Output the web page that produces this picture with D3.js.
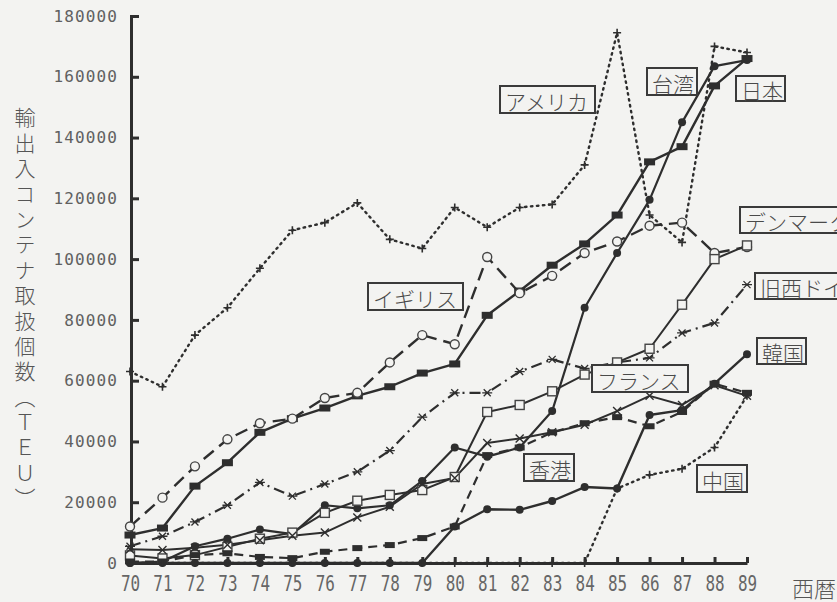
<!DOCTYPE html>
<html>
<head>
<meta charset="utf-8">
<script src="https://cdn.jsdelivr.net/npm/d3@7/dist/d3.min.js"></script>
<style>
  html, body { margin: 0; padding: 0; background: #f3f3f1; }
  svg { display: block; }
</style>
</head>
<body>
<svg id="chart" width="837" height="602"></svg>
<script>
// ---- data (TEU), years 1970–1989 ----
const years = [70, 71, 72, 73, 74, 75, 76, 77, 78, 79, 80, 81, 82, 83, 84, 85, 86, 87, 88, 89];
const yTicks = [0, 20000, 40000, 60000, 80000, 100000, 120000, 140000, 160000, 180000];

const usa         = [63000, 58000, 75000, 84000, 97000, 109500, 112000, 118500, 106500, 103500, 117000, 110500, 117000, 118000, 131000, 174500, 114500, 105500, 170000, 168000];
const japan       = [9200, 11500, 25300, 33000, 43000, 47500, 51000, 55000, 58000, 62500, 65500, 81500, 89500, 98000, 105000, 114500, 132000, 137000, 157000, 166000];
const taiwan      = [0, 500, 5500, 8000, 11000, 9500, 19000, 18000, 19000, 27000, 38000, 35000, 38000, 50000, 84000, 102000, 119500, 145000, 163500, 165500];
const uk          = [12000, 21500, 31800, 40700, 46000, 47500, 54300, 56000, 66000, 75000, 72000, 100700, 88800, 94500, 102000, 105800, 111000, 112000, 102000, 104000];
const westGermany = [5500, 8800, 13500, 19000, 26500, 22000, 26000, 30000, 37000, 48000, 56000, 56000, 63000, 67000, 64000, 66000, 67500, 75700, 79000, 91600];
const denmark     = [2500, 1500, 2600, 5300, 8000, 10000, 16500, 20500, 22400, 24000, 28300, 49700, 52000, 56500, 62000, 66000, 70500, 85000, 100000, 104500];
const france      = [4500, 4300, 5000, 6000, 7500, 9000, 10000, 15000, 18500, 26000, 28000, 39500, 41000, 43000, 45500, 50000, 55000, 52000, 58500, 55000];
const korea       = [0, 0, 0, 0, 0, 0, 0, 0, 0, 0, 12000, 17700, 17500, 20400, 25000, 24500, 48700, 50300, 59000, 68700];
const hongKong    = [500, 500, 2600, 3200, 2000, 1600, 3700, 4900, 5900, 8200, 12000, 35500, 38000, 43000, 46000, 48000, 45000, 49700, 59000, 56000];
const china       = [0, 0, 0, 0, 0, 0, 0, 0, 0, 0, 0, 0, 0, 0, 0, 24500, 29000, 31000, 38000, 55000];

const yTitle = "輸出入コンテナ取扱個数（ＴＥＵ）";
const xTitle = "西暦";

// ---- series styling ----
const INK = "#2e2e2e";
const BG = "#f3f3f1";
const series = [
  { name: "アメリカ",   values: usa,         dash: "1.5,4.5", width: 2.4, marker: "plus" },
  { name: "日本",       values: japan,       dash: null,      width: 2.4, marker: "bar" },
  { name: "台湾",       values: taiwan,      dash: null,      width: 2.2, marker: "dot" },
  { name: "イギリス",   values: uk,          dash: "13,7",    width: 2.4, marker: "ring" },
  { name: "旧西ドイツ", values: westGermany, dash: "11,5,2,5", width: 2.2, marker: "star" },
  { name: "デンマーク", values: denmark,     dash: null,      width: 2.0, marker: "square" },
  { name: "フランス",   values: france,      dash: null,      width: 2.0, marker: "cross" },
  { name: "韓国",       values: korea,       dash: null,      width: 2.4, marker: "dot" },
  { name: "香港",       values: hongKong,    dash: "9,6",     width: 2.2, marker: "smallbar" },
  { name: "中国",       values: china,       dash: "1.5,4.5", width: 2.4, marker: "plus" }
];

// boxed series names: [name, left, top, width, height]
const nameBoxes = [
  ["アメリカ",   500, 86, 95, 27],
  ["台湾",       647, 68, 50, 27],
  ["日本",       736, 76, 49, 25],
  ["デンマーク", 740, 207, 125, 26],
  ["旧西ドイツ", 755, 273, 120, 26],
  ["韓国",       757, 338, 49, 26],
  ["イギリス",   368, 283, 95, 27],
  ["フランス",   592, 365, 96, 27],
  ["香港",       524, 454, 50, 27],
  ["中国",       697, 465, 50, 27]
];

// ---- layout ----
const svg = d3.select("#chart");
const x = d3.scaleLinear().domain([70, 89]).range([130, 747]);
const y = d3.scaleLinear().domain([0, 180000]).range([563, 16]);

// axes
const yAxis = d3.axisLeft(y).tickValues(yTicks).tickSizeInner(-8).tickSizeOuter(-8)
  .tickPadding(13).tickFormat(d => String(d));
const gy = svg.append("g").attr("transform", "translate(131,0)").call(yAxis);
gy.select(".domain").attr("stroke", INK).attr("stroke-width", 3);
gy.selectAll(".tick line").attr("stroke", INK).attr("stroke-width", 3);
gy.selectAll(".tick text")
  .attr("fill", "#606060")
  .style("font-family", "'DejaVu Sans Mono', monospace")
  .style("font-size", "16px")
  .style("letter-spacing", "1.1px");

const xAxis = d3.axisBottom(x).tickValues(years).tickSizeInner(-6).tickSizeOuter(0)
  .tickPadding(0).tickFormat("");
const gx = svg.append("g").attr("transform", "translate(0,563)").call(xAxis);
gx.select(".domain").attr("stroke", INK).attr("stroke-width", 3);
gx.selectAll(".tick line").attr("stroke", INK).attr("stroke-width", 3);
gx.selectAll(".tick").append("text")
  .attr("transform", "translate(0,28) scale(0.76,1)")
  .attr("text-anchor", "middle")
  .attr("fill", "#666")
  .style("font-family", "'DejaVu Sans Mono', monospace")
  .style("font-size", "21px")
  .text(d => d);

// axis titles
svg.append("text")
  .attr("x", 25).attr("y", 107)
  .attr("fill", "#555")
  .style("writing-mode", "vertical-rl")
  .style("font-family", "'Noto Sans CJK JP', sans-serif")
  .style("font-size", "21px")
  .style("font-weight", 300)
  .style("letter-spacing", "4.4px")
  .text(yTitle);

svg.append("text")
  .attr("x", 792).attr("y", 597)
  .attr("fill", "#555")
  .style("font-family", "'Noto Sans CJK JP', sans-serif")
  .style("font-size", "22px")
  .style("font-weight", 300)
  .text(xTitle);

// lines
const line = d3.line().x((d, i) => x(years[i])).y(d => y(d));
const plot = svg.append("g");
series.forEach(s => {
  plot.append("path")
    .attr("d", line(s.values))
    .attr("fill", "none")
    .attr("stroke", INK)
    .attr("stroke-width", s.width)
    .attr("stroke-linecap", s.dash && s.dash.startsWith("1.5") ? "round" : "butt")
    .attr("stroke-linejoin", "round")
    .attr("stroke-dasharray", s.dash);
});

// markers
function drawMarker(g, kind) {
  switch (kind) {
    case "plus":
      g.append("path").attr("d", "M-4,0H4M0,-4V4").attr("stroke", INK).attr("stroke-width", 1.6);
      break;
    case "cross":
      g.append("path").attr("d", "M-4,-4L4,4M-4,4L4,-4").attr("stroke", INK).attr("stroke-width", 1.4);
      break;
    case "star":
      g.append("path").attr("d", "M-5,0H5M-3.5,-3.5L3.5,3.5M-3.5,3.5L3.5,-3.5").attr("stroke", INK).attr("stroke-width", 1.3);
      break;
    case "bar":
      g.append("rect").attr("x", -5.5).attr("y", -3.5).attr("width", 11).attr("height", 7).attr("fill", INK);
      break;
    case "smallbar":
      g.append("rect").attr("x", -5).attr("y", -3).attr("width", 10).attr("height", 6).attr("fill", INK);
      break;
    case "dot":
      g.append("circle").attr("r", 4).attr("fill", INK);
      break;
    case "ring":
      g.append("circle").attr("r", 4.5).attr("fill", BG).attr("stroke", "#444").attr("stroke-width", 1.4);
      break;
    case "square":
      g.append("rect").attr("x", -4.5).attr("y", -4.5).attr("width", 9).attr("height", 9)
        .attr("fill", BG).attr("stroke", "#444").attr("stroke-width", 1.4);
      break;
  }
}
series.forEach(s => {
  const g = plot.append("g");
  s.values.forEach((v, i) => {
    const m = g.append("g").attr("transform", `translate(${x(years[i])},${y(v)})`);
    drawMarker(m, s.marker);
  });
});

// boxed series names
const boxes = svg.append("g").selectAll("g").data(nameBoxes).join("g")
  .attr("transform", d => `translate(${d[1]},${d[2]})`);
boxes.append("rect")
  .attr("width", d => d[3]).attr("height", d => d[4])
  .attr("fill", BG).attr("stroke", "#3a3a3a").attr("stroke-width", 2);
boxes.append("text")
  .attr("x", 5).attr("y", d => d[4] / 2 + 1)
  .attr("dominant-baseline", "central")
  .attr("fill", "#4a4a4a")
  .style("font-family", "'Noto Sans CJK JP', sans-serif")
  .style("font-size", "21px")
  .style("font-weight", 300)
  .text(d => d[0]);
</script>
</body>
</html>
